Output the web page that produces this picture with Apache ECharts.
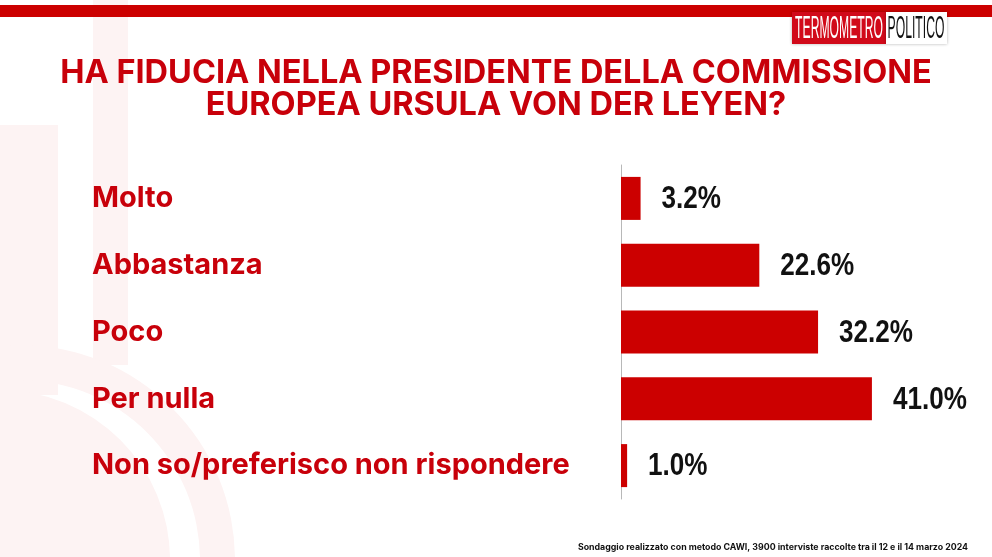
<!DOCTYPE html>
<html>
<head>
<meta charset="utf-8">
<script src="https://cdn.jsdelivr.net/npm/echarts@6/dist/echarts.min.js"></script>
<style>
html,body{margin:0;padding:0;background:#fff;}
#chart{width:992px;height:557px;}
</style>
</head>
<body>
<div id="chart"></div>
<script>
var categories = ['Molto', 'Abbastanza', 'Poco', 'Per nulla', 'Non so/preferisco non rispondere'];
var values = [3.2, 22.6, 32.2, 41.0, 1.0];
var titleText = 'HA FIDUCIA NELLA PRESIDENTE DELLA COMMISSIONE\nEUROPEA URSULA VON DER LEYEN?';
var footnote = 'Sondaggio realizzato con metodo CAWI, 3900 interviste raccolte tra il 12 e il 14 marzo 2024';

var RED = '#c8000a';
var PALE = '#fdf3f3';
var chart = echarts.init(document.getElementById('chart'), null, {renderer: 'canvas'});
chart.setOption({
  backgroundColor: '#ffffff',
  animation: false,
  title: {
    text: titleText,
    left: 'center',
    top: 52,
    textStyle: {
      fontFamily: 'Inter',
      fontWeight: 'bold',
      fontSize: 32.5,
      lineHeight: 32,
      color: RED
    }
  },
  grid: {left: 621, right: 65, top: 165, bottom: 58, containLabel: false},
  xAxis: {
    type: 'value', min: 0, max: 50, show: false,
    splitLine: {show: false}
  },
  yAxis: {
    type: 'category',
    data: categories,
    inverse: true,
    axisLine: {show: true, lineStyle: {color: '#b8b8b8', width: 1}},
    axisTick: {show: false},
    axisLabel: {
      margin: 529,
      align: 'left',
      fontFamily: 'Inter',
      fontWeight: 'bold',
      fontSize: 29,
      color: RED
    }
  },
  series: [{
    type: 'bar',
    data: values,
    barWidth: 43,
    itemStyle: {color: '#cc0000'}
  }, {
    type: 'custom',
    data: values.map(function (v, i) { return [v, i]; }),
    encode: {x: 0, y: 1},
    z: 5,
    renderItem: function (params, api) {
      var v = api.value(0);
      var p = api.coord([v, api.value(1)]);
      return {
        type: 'text',
        x: p[0] + 21,
        y: p[1] + 1,
        scaleX: 0.815,
        style: {
          text: v.toFixed(1) + '%',
          font: 'bold 32px "Liberation Sans", Arial, sans-serif',
          fill: '#111111',
          align: 'left',
          verticalAlign: 'middle'
        }
      };
    }
  }],
  graphic: [
    // faint watermark shapes
    {type: 'rect', z: -10, silent: true, shape: {x: 0, y: 125, width: 58, height: 270}, style: {fill: PALE}},
    {type: 'circle', z: -10, silent: true, shape: {cx: 0, cy: 560, r: 170}, style: {fill: PALE}},
    {type: 'rect', z: -10, silent: true, shape: {x: 93, y: 0, width: 35, height: 365}, style: {fill: PALE}},
    {type: 'ring', z: -10, silent: true, shape: {cx: 20, cy: 560, r: 215, r0: 180}, style: {fill: PALE}},
    // top bar
    {type: 'rect', silent: true, shape: {x: 0, y: 5, width: 992, height: 12}, style: {fill: '#cc0000'}},
    // logo
    {type: 'rect', silent: true, shape: {x: 792, y: 12, width: 94, height: 32}, style: {fill: '#d10a1a', shadowBlur: 3, shadowColor: 'rgba(0,0,0,0.3)'}},
    {type: 'rect', silent: true, shape: {x: 886, y: 12, width: 61, height: 32}, style: {fill: '#ffffff', shadowBlur: 3, shadowColor: 'rgba(0,0,0,0.3)'}},
    {type: 'text', silent: true, x: 839, y: 29, scaleX: 0.38, style: {text: 'TERMOMETRO', fill: '#ffffff', font: '32px "Liberation Sans", sans-serif', align: 'center', verticalAlign: 'middle'}},
    {type: 'text', silent: true, x: 916, y: 29, scaleX: 0.38, style: {text: 'POLITICO', fill: '#111111', font: '32px "Liberation Sans", sans-serif', align: 'center', verticalAlign: 'middle'}},
    // footnote
    {type: 'text', silent: true, right: 24, top: 543, style: {text: footnote, fill: '#111111', font: 'bold 8.8px Inter'}}
  ]
});
</script>
</body>
</html>
